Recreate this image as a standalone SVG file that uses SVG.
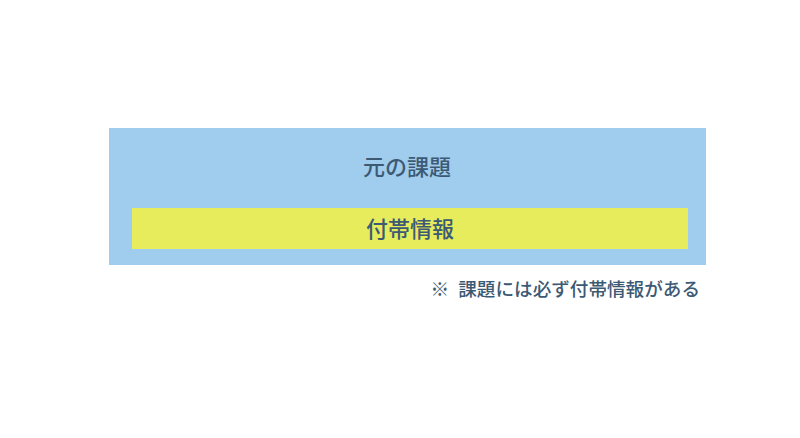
<svg xmlns="http://www.w3.org/2000/svg" width="800" height="438" viewBox="0 0 800 438">
<style>
text{font-family:"Noto Sans CJK JP","Noto Sans",sans-serif;fill:#3d5a74;font-weight:500;}
.c{text-anchor:middle;font-size:22px;}
</style>
<rect width="800" height="438" fill="#ffffff"/>
<g id="outer">
<rect x="109" y="128" width="597" height="137" fill="#a0cdee"/>
<text class="c" x="407" y="175">元の課題</text>
</g>
<g id="inner">
<rect x="132" y="208" width="556" height="41" fill="#e6ec5c"/>
<text class="c" x="410" y="237">付帯情報</text>
</g>
<g id="connectors"></g>
<g id="note">
<text x="700" y="296" font-size="18.6" text-anchor="end">※ <tspan dx="5">課題には必ず付帯情報がある</tspan></text>
</g>
</svg>
